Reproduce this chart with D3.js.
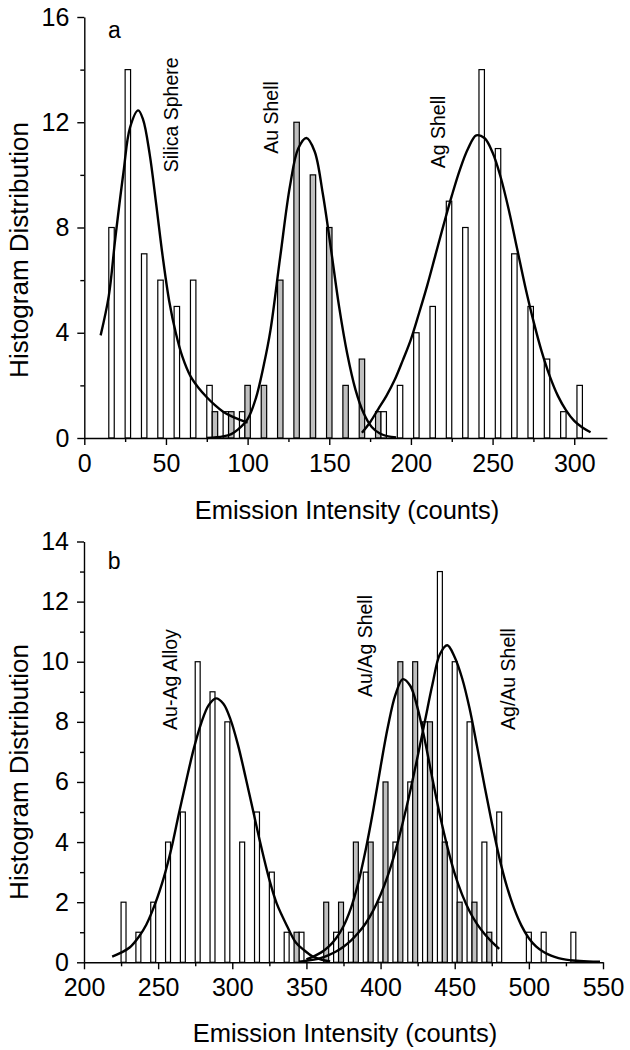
<!DOCTYPE html>
<html><head><meta charset="utf-8">
<script src="https://cdn.jsdelivr.net/npm/d3@7/dist/d3.min.js"></script>
<style>
html,body{margin:0;padding:0;background:#fff;}
svg{display:block;font-family:"Liberation Sans",Arial,sans-serif;}
</style></head>
<body>
<svg id="chart" width="630" height="1050"></svg>
<script>
// ---------- Panel a data ----------
const aBins = [15,25,35,45,55,65,75,85,95,105,115,125,135,145,155,165,175,185,195,205,215,225,235,245,255,265,275,285,295];
const aSilica = [8,14,7,6,5,6,2,1,1,0,0,0,0,0,0,0,0,0,0,0,0,0,0,0,0,0,0,0,0];
const aAuShell = [0,0,0,0,0,0,1,1,2,2,6,12,10,8,2,3,1,0,0,0,0,0,0,0,0,0,0,0,0];
const aAgShell = [0,0,0,0,0,0,0,0,0,0,0,0,0,0,0,0,1,2,4,5,9,8,14,11,7,5,3,1,2];
const aFitSilica = [[10,3.9],[15,5.4],[19,7.6],[24,10.1],[28,11.8],[33,12.45],[36,12.1],[40,10.8],[44,8.9],[48,6.9],[52,5.2],[56,4.0],[60,3.1],[65,2.35],[70,1.9],[75,1.55],[80,1.25],[85,1.0],[90,0.83],[95,0.7],[100,0.58]];
const aFitAu = [[75,0.0],[85,0.06],[90,0.15],[94,0.32],[100,0.72],[105,1.5],[110,2.8],[114,4.1],[120,6.9],[126,9.6],[131,11.0],[136,11.4],[141,10.9],[146,9.3],[151,7.2],[156,5.0],[161,3.2],[166,1.85],[171,0.95],[176,0.42],[181,0.17],[186,0.06],[191,0.02]];
const aFitAg = [[170,0.2],[175,0.6],[180,1.1],[185,1.6],[190,2.2],[195,2.95],[200,3.75],[205,4.75],[210,5.8],[215,6.95],[220,8.1],[225,9.2],[230,10.2],[235,11.0],[240,11.5],[245,11.4],[250,10.85],[255,9.9],[260,8.65],[265,7.2],[270,5.75],[275,4.45],[280,3.3],[285,2.35],[290,1.6],[295,1.05],[300,0.65],[305,0.4],[310,0.22]];
const aXMajor = [0,50,100,150,200,250,300];
const aXMinor = [25,75,125,175,225,275];
const aYMajor = [0,4,8,12,16];
const aYMinor = [2,6,10,14];
const aNotes = [
  {t:"Silica Sphere", x:57.4, y:10.1},
  {t:"Au Shell", x:118.8, y:10.8},
  {t:"Ag Shell", x:220.9, y:10.25}
];

// ---------- Panel b data ----------
const bBins = [225,235,245,255,265,275,285,295,305,315,325,335,345,355,365,375,385,395,405,415,425,435,445,455,465,475,485,495,505,515,525];
const bAlloy = [2,1,2,4,5,10,9,8,4,5,3,1,1,0,0,0,0,0,0,0,0,0,0,0,0,0,0,0,0,0,0];
const bAgAuShell = [0,0,0,0,0,0,0,0,0,0,0,0,0,0,1,1,3,2,4,6,8,13,10,8,4,5,0,1,1,0,1];
const bAuAgShell = [0,0,0,0,0,0,0,0,0,0,0,1,0,2,2,4,4,6,10,10,8,4,2,2,1,0,0,0,0,0,0];
const bFitAlloy = [[219,0.19],[225,0.32],[231,0.5],[237,0.85],[242,1.25],[248,1.95],[254,2.85],[259,3.8],[264,4.95],[269,6.05],[274,7.1],[279,7.95],[284,8.55],[289,8.78],[294,8.6],[299,8.05],[304,7.2],[309,6.15],[314,5.05],[319,3.95],[325,2.75],[330,1.95],[337,1.2],[343,0.65],[348,0.42],[354,0.2],[360,0.09],[366,0.03]];
const bFitAuAg = [[350,0.1],[355,0.2],[360,0.33],[365,0.52],[370,0.8],[375,1.2],[380,1.8],[385,2.65],[390,3.75],[395,5.05],[400,6.5],[405,7.85],[410,8.9],[415,9.42],[420,9.2],[425,8.45],[430,7.35],[435,6.1],[440,4.9],[445,3.85],[450,2.95],[455,2.25],[460,1.7],[465,1.28],[470,0.95],[475,0.68],[480,0.45]];
const bFitAgAu = [[345,0.02],[350,0.05],[355,0.09],[360,0.15],[365,0.24],[370,0.36],[375,0.52],[380,0.72],[385,0.98],[390,1.3],[395,1.72],[400,2.25],[405,2.9],[410,3.7],[415,4.65],[420,5.7],[425,6.85],[430,8.05],[435,9.25],[440,10.25],[445,10.55],[450,10.15],[455,9.45],[460,8.45],[465,7.2],[470,5.9],[475,4.65],[480,3.5],[485,2.55],[490,1.8],[495,1.22],[500,0.8],[505,0.52],[510,0.34],[515,0.22],[520,0.14],[525,0.09],[530,0.06],[540,0.03],[548,0.02]];
const bXMajor = [200,250,300,350,400,450,500,550];
const bXMinor = [225,275,325,375,425,475,525];
const bYMajor = [0,2,4,6,8,10,12,14];
const bYMinor = [1,3,5,7,9,11,13];
const bNotes = [
  {t:"Au-Ag Alloy", x:262.7, y:7.73},
  {t:"Au/Ag Shell", x:394.2, y:8.83},
  {t:"Ag/Au Shell", x:490.6, y:7.73}
];

const xTitle = "Emission Intensity (counts)";
const yTitle = "Histogram Distribution";
const binWidth = 10;

const svg = d3.select("#chart");

function panel(cfg) {
  const x = d3.scaleLinear().domain(cfg.xDomain).range(cfg.xRange);
  const y = d3.scaleLinear().domain(cfg.yDomain).range(cfg.yRange);
  const g = svg.append("g");
  const slot = binWidth / cfg.series.length;

  // bars
  cfg.series.forEach((s, i) => {
    g.append("g").selectAll("rect")
      .data(cfg.bins.map((b, k) => ({b, v: s.values[k]})).filter(d => d.v > 0))
      .join("rect")
      .attr("x", d => x(d.b + i * slot))
      .attr("width", d => x(d.b + (i + 1) * slot) - x(d.b + i * slot))
      .attr("y", d => y(d.v))
      .attr("height", d => y(0) - y(d.v))
      .attr("fill", s.fill)
      .attr("stroke", "#000")
      .attr("stroke-width", 1.2);
  });

  // fits
  const line = d3.line().x(d => x(d[0])).y(d => y(d[1])).curve(d3.curveCatmullRom.alpha(0.5));
  cfg.fits.forEach(f => {
    g.append("path").datum(f).attr("d", line)
      .attr("fill", "none").attr("stroke", "#000").attr("stroke-width", 2.4);
  });

  // axes
  g.append("g").attr("transform", `translate(0,${y(cfg.yDomain[0])})`)
    .call(d3.axisBottom(x).tickValues(cfg.xMajor).tickFormat(d3.format("d")).tickSize(7).tickSizeOuter(0).tickPadding(9));
  g.append("g").attr("transform", `translate(0,${y(cfg.yDomain[0])})`)
    .call(d3.axisBottom(x).tickValues(cfg.xMinor).tickFormat("").tickSize(4).tickSizeOuter(0))
    .select(".domain").remove();
  g.append("g").attr("transform", `translate(${x(cfg.xDomain[0])},0)`)
    .call(d3.axisLeft(y).tickValues(cfg.yMajor).tickFormat(d3.format("d")).tickSize(7).tickSizeOuter(0).tickPadding(8));
  g.append("g").attr("transform", `translate(${x(cfg.xDomain[0])},0)`)
    .call(d3.axisLeft(y).tickValues(cfg.yMinor).tickFormat("").tickSize(4).tickSizeOuter(0))
    .select(".domain").remove();
  g.selectAll(".domain, .tick line").attr("stroke", "#000").attr("stroke-width", 1.4);
  g.selectAll(".tick text").attr("font-size", 25).attr("fill", "#000")
    .attr("font-family", "'Liberation Sans', Arial, sans-serif");

  // titles
  g.append("text").attr("x", cfg.xTitlePos[0]).attr("y", cfg.xTitlePos[1])
    .attr("text-anchor", "middle").attr("font-size", 25.5).text(xTitle);
  g.append("text").attr("transform", `translate(${cfg.yTitlePos[0]},${cfg.yTitlePos[1]}) rotate(-90)`)
    .attr("text-anchor", "middle").attr("font-size", 26).text(yTitle);

  // panel letter
  g.append("text").attr("x", x(cfg.letter.x)).attr("y", y(cfg.letter.y))
    .attr("font-size", 23).text(cfg.letter.t);

  // annotations
  cfg.notes.forEach(n => {
    g.append("text").attr("transform", `translate(${x(n.x)},${y(n.y)}) rotate(-90)`)
      .attr("font-size", 19.5).text(n.t);
  });
}

panel({
  xDomain: [0, 320], xRange: [84.3, 606.9],
  yDomain: [0, 16], yRange: [438, 17],
  bins: aBins,
  series: [
    {values: aSilica, fill: "#fff"},
    {values: aAuShell, fill: "#bfbfbf"},
    {values: aAgShell, fill: "#fff"}
  ],
  fits: [aFitSilica, aFitAu, aFitAg],
  xMajor: aXMajor, xMinor: aXMinor, yMajor: aYMajor, yMinor: aYMinor,
  xTitlePos: [347, 519], yTitlePos: [28, 250],
  letter: {t: "a", x: 14.5, y: 15.2},
  notes: aNotes
});

panel({
  xDomain: [200, 550], xRange: [84, 603],
  yDomain: [0, 14], yRange: [962.3, 541.5],
  bins: bBins,
  series: [
    {values: bAlloy, fill: "#fff"},
    {values: bAgAuShell, fill: "#fff"},
    {values: bAuAgShell, fill: "#bfbfbf"}
  ],
  fits: [bFitAlloy, bFitAuAg, bFitAgAu],
  xMajor: bXMajor, xMinor: bXMinor, yMajor: bYMajor, yMinor: bYMinor,
  xTitlePos: [345, 1042], yTitlePos: [28, 772],
  letter: {t: "b", x: 216, y: 13.1},
  notes: bNotes
});
</script>
</body></html>
